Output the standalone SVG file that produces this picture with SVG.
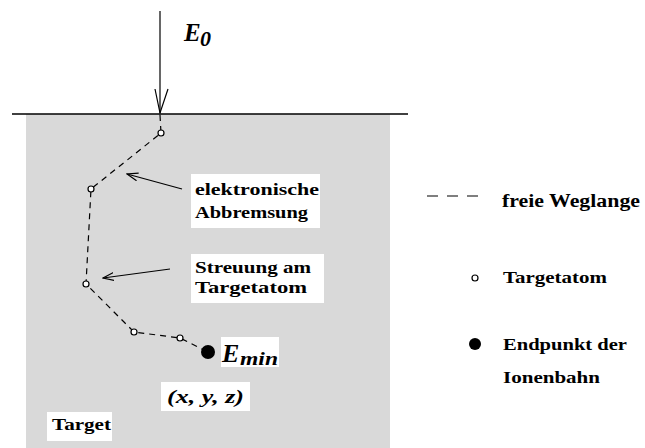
<svg xmlns="http://www.w3.org/2000/svg" width="645" height="448" viewBox="0 0 645 448">
<defs>
<style>
.t{font-family:"Liberation Serif","Times New Roman",serif;font-weight:bold;font-size:17px;fill:#000}
.i{font-style:italic}
.box{fill:#fff}
.atom{fill:#fff;stroke:#000;stroke-width:1.2}
.path{fill:none;stroke:#000;stroke-width:1.2;stroke-dasharray:6 5}
.ln{fill:none;stroke:#000;stroke-width:1.2}
</style>
<marker id="ah" viewBox="0 0 12 10" refX="11" refY="5" markerWidth="12" markerHeight="10" markerUnits="userSpaceOnUse" orient="auto">
<path d="M0,1 L11,5 L0,9" fill="none" stroke="#000" stroke-width="1.2"/>
</marker>
</defs>
<rect x="0" y="0" width="645" height="448" fill="#fff"/>
<rect id="target-area" x="26" y="114" width="364" height="334" fill="#d9d9d9"/>
<line x1="12" y1="114" x2="408" y2="114" stroke="#000" stroke-width="1.5"/>

<g id="connectors">
<line x1="160" y1="11" x2="160" y2="113" class="ln" stroke-width="1.5"/>
<polyline points="155,89 160,113 168,89" class="ln" stroke-width="1.5"/>
<polyline class="path" points="160,115 161,133 91,189 86,284 134,332 180,338 208,352"/>
<line x1="182" y1="189" x2="127" y2="174" class="ln" marker-end="url(#ah)"/>
<line x1="170" y1="269" x2="103" y2="278" class="ln" marker-end="url(#ah)"/>
</g>

<g id="E0"><text class="t i" x="184" y="41" style="font-size:25px">E</text><text class="t i" x="200" y="46" style="font-size:22px">0</text></g>

<g id="atom1"><circle class="atom" cx="161" cy="133" r="3"/></g>
<g id="atom2"><circle class="atom" cx="91" cy="189" r="3"/></g>
<g id="atom3"><circle class="atom" cx="86" cy="284" r="3"/></g>
<g id="atom4"><circle class="atom" cx="134" cy="332" r="3"/></g>
<g id="atom5"><circle class="atom" cx="180" cy="338" r="3"/></g>
<g id="endpoint"><circle cx="208" cy="352" r="7" fill="#000"/></g>

<g id="label-abbremsung">
<rect class="box" x="191" y="174" width="129" height="54"/>
<text class="t" x="195" y="195" textLength="124" lengthAdjust="spacingAndGlyphs">elektronische</text>
<text class="t" x="195" y="218" textLength="113" lengthAdjust="spacingAndGlyphs">Abbremsung</text>
</g>
<g id="label-streuung">
<rect class="box" x="191" y="254" width="133" height="49"/>
<text class="t" x="195" y="273" textLength="116" lengthAdjust="spacingAndGlyphs">Streuung am</text>
<text class="t" x="195" y="293" textLength="112" lengthAdjust="spacingAndGlyphs">Targetatom</text>
</g>
<g id="label-emin">
<rect class="box" x="221" y="337" width="58" height="30"/>
<text class="t i" x="222" y="362" style="font-size:26px">E</text>
<text class="t i" x="240" y="365" style="font-size:18px" textLength="38" lengthAdjust="spacingAndGlyphs">min</text>
</g>
<g id="label-xyz">
<rect class="box" x="161" y="382" width="89" height="29"/>
<text class="t i" x="167" y="403" style="font-size:18px" textLength="77" lengthAdjust="spacingAndGlyphs">(x, y, z)</text>
</g>
<g id="label-target">
<rect class="box" x="47" y="412" width="65" height="29"/>
<text class="t" x="52" y="430" textLength="59" lengthAdjust="spacingAndGlyphs">Target</text>
</g>

<g id="legend-path">
<line x1="427" y1="196" x2="478" y2="196" stroke="#000" stroke-width="1.2" stroke-dasharray="11 9"/>
<text class="t" x="502" y="207" style="font-size:18px" textLength="138" lengthAdjust="spacingAndGlyphs">freie Weglange</text>
</g>
<g id="legend-atom">
<circle class="atom" cx="475" cy="278" r="3"/>
<text class="t" x="503" y="283" textLength="104" lengthAdjust="spacingAndGlyphs">Targetatom</text>
</g>
<g id="legend-end">
<circle cx="475" cy="344" r="6" fill="#000"/>
<text class="t" x="503" y="350" textLength="124" lengthAdjust="spacingAndGlyphs">Endpunkt der</text>
<text class="t" x="503" y="383" textLength="97" lengthAdjust="spacingAndGlyphs">Ionenbahn</text>
</g>
</svg>
